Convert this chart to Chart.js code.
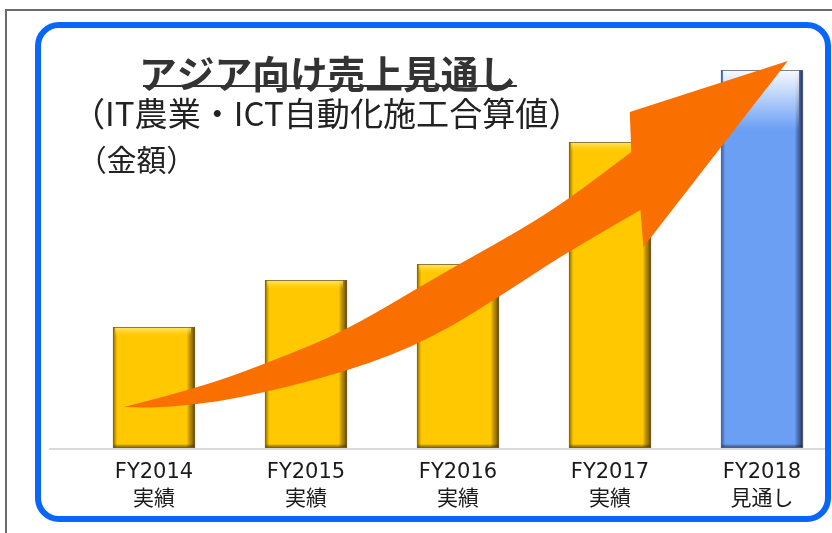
<!DOCTYPE html>
<html lang="ja">
<head>
<meta charset="utf-8">
<title>アジア向け売上見通し</title>
<script src="https://cdn.jsdelivr.net/npm/chart.js@4.4.1/dist/chart.umd.min.js"></script>
<style>
  html, body { margin: 0; padding: 0; }
  body { width: 832px; height: 533px; overflow: hidden; position: relative; background: #fff; }
  .outer { position: absolute; left: 5px; top: 9px; width: 840px; height: 540px;
           border-left: 2px solid #6b6b6b; border-top: 2px solid #6b6b6b; }
  .frame { position: absolute; left: 35px; top: 22px; width: 784px; height: 488px;
           border: 6px solid #0a66f8; border-radius: 24px; }
  .chart-box { position: absolute; left: 0; top: 0; width: 850px; height: 533px; }
</style>
</head>
<body>
<div class="outer"></div>
<div class="frame"></div>
<div class="chart-box"><canvas id="salesChart"></canvas></div>

<script>
// 見出し
const titleText = "アジア向け売上見通し";
const subtitleText = "（IT農業・ICT自動化施工合算値）";
const unitText = "（金額）";
// 年度ラベル（2行）
const years = ["FY2014", "FY2015", "FY2016", "FY2017", "FY2018"];
const kinds = ["実績", "実績", "実績", "実績", "見通し"];
// 金額（目盛なしのため相対値）
const amounts = [121, 168, 184, 306, 378];
// 矢印の輪郭（x: 年度の位置, y: 金額の単位）
const arrowUpperX = [-0.2, 0.3, 0.83, 1.27, 1.88, 2.41, 2.72, 3.14];
const arrowUpperY = [41, 60, 90, 118, 173, 218, 248, 296];
const arrowHeadX = [3.13, 4.17, 3.22];
const arrowHeadY = [336, 387, 201];
const arrowLowerX = [3.2, 2.72, 2.41, 1.84, 1.27, 0.52, 0.04, -0.2];
const arrowLowerY = [238, 196, 165, 110, 76, 48, 40, 41];

const GOLD = "#ffc800";
const BLUE = "#6a9ff4";
const ARROW = "#f97000";
const JP = "'Noto Sans CJK JP'";

// 見出しの配置（インクの左端・右端・上端）
const headings = [
    { text: titleText, weight: "bold", color: "#333", left: 143, right: 513, top: 55, underline: 86 },
    { text: subtitleText, weight: "normal", color: "#222", left: 94, right: 558, top: 97 },
    { text: unitText, weight: "normal", color: "#222", left: 97, right: 175, top: 145 },
];

const headingPlugin = {
    id: "headings",
    afterDraw(chart) {
        const { ctx } = chart;
        ctx.save();
        ctx.textAlign = "left";
        ctx.textBaseline = "alphabetic";
        headings.forEach(h => {
            ctx.font = `${h.weight} 100px ${JP}`;
            let m = ctx.measureText(h.text);
            const size = 100 * (h.right - h.left) / (m.actualBoundingBoxLeft + m.actualBoundingBoxRight);
            ctx.font = `${h.weight} ${size.toFixed(2)}px ${JP}`;
            m = ctx.measureText(h.text);
            ctx.fillStyle = h.color;
            ctx.fillText(h.text, h.left + m.actualBoundingBoxLeft, h.top + m.actualBoundingBoxAscent);
            if (h.underline) {
                ctx.fillRect(h.left, h.underline - 1, h.right - h.left + 4, 2);
            }
        });
        ctx.restore();
    }
};

// 棒の立体感（縁の影とハイライト）
const bevelPlugin = {
    id: "bevel",
    beforeDatasetsDraw(chart) {
        const { ctx, scales } = chart;
        const y0 = scales.y.getPixelForValue(0);
        ctx.save();
        ctx.fillStyle = "#d9d9d9";
        ctx.fillRect(49, y0, 776, 2);
        ctx.restore();
    },
    afterDatasetsDraw(chart) {
        const { ctx } = chart;
        const meta = chart.getDatasetMeta(0);
        meta.data.forEach((bar, i) => {
            const { x, y, base, width } = bar.getProps(["x", "y", "base", "width"], true);
            const l = x - width / 2, r = x + width / 2, h = base - y;
            const isPlan = i === amounts.length - 1;
            ctx.save();
            // 左右の縁
            const hg = ctx.createLinearGradient(l, 0, r, 0);
            hg.addColorStop(0, isPlan ? "rgba(40,60,110,0.55)" : "rgba(110,75,0,0.6)");
            hg.addColorStop(0.05, "rgba(0,0,0,0)");
            hg.addColorStop(0.9, "rgba(0,0,0,0)");
            hg.addColorStop(0.96, isPlan ? "rgba(30,40,80,0.55)" : "rgba(90,60,0,0.55)");
            hg.addColorStop(1, isPlan ? "rgba(20,25,50,0.9)" : "rgba(60,40,0,0.9)");
            ctx.fillStyle = hg;
            ctx.fillRect(l, y, width, h);
            // 上部のハイライト
            const topH = isPlan ? 60 : 9;
            const vg = ctx.createLinearGradient(0, y, 0, y + topH);
            if (isPlan) {
                vg.addColorStop(0, "rgba(255,255,255,0.95)");
                vg.addColorStop(1, "rgba(255,255,255,0)");
            } else {
                vg.addColorStop(0, "rgba(255,235,120,0.9)");
                vg.addColorStop(1, "rgba(255,220,60,0)");
            }
            ctx.fillStyle = vg;
            ctx.fillRect(l + 2, y, width - 6, topH);
            // 下の影
            const bg = ctx.createLinearGradient(0, base - 4, 0, base);
            bg.addColorStop(0, "rgba(0,0,0,0)");
            bg.addColorStop(1, isPlan ? "rgba(30,40,80,0.7)" : "rgba(80,55,0,0.7)");
            ctx.fillStyle = bg;
            ctx.fillRect(l, base - 4, width, 4);
            // 輪郭
            ctx.strokeStyle = isPlan ? "rgba(90,100,120,0.8)" : "rgba(120,95,40,0.8)";
            ctx.lineWidth = 1;
            ctx.strokeRect(l + 0.5, y + 0.5, width - 1, h - 1);
            ctx.restore();
        });
    }
};

// 右肩上がりの矢印
const arrowPlugin = {
    id: "arrow",
    afterDatasetsDraw(chart) {
        const { ctx, scales } = chart;
        const px = (xs, ys) => xs.map((v, i) => [scales.x.getPixelForValue(v), scales.y.getPixelForValue(ys[i])]);
        const up = px(arrowUpperX, arrowUpperY);
        const head = px(arrowHeadX, arrowHeadY);
        const low = px(arrowLowerX, arrowLowerY);
        const smooth = (pts, first) => {
            if (first) ctx.moveTo(pts[0][0], pts[0][1]);
            else ctx.lineTo(pts[0][0], pts[0][1]);
            for (let i = 1; i < pts.length - 1; i++) {
                const mx = (pts[i][0] + pts[i + 1][0]) / 2;
                const my = (pts[i][1] + pts[i + 1][1]) / 2;
                ctx.quadraticCurveTo(pts[i][0], pts[i][1], mx, my);
            }
            const last = pts[pts.length - 1];
            ctx.lineTo(last[0], last[1]);
        };
        ctx.save();
        ctx.beginPath();
        smooth(up, true);
        head.forEach(p => ctx.lineTo(p[0], p[1]));
        smooth(low, false);
        ctx.closePath();
        ctx.fillStyle = ARROW;
        ctx.fill();
        ctx.restore();
    }
};

new Chart(document.getElementById("salesChart"), {
    type: "bar",
    data: {
        labels: years.map((y, i) => [y, kinds[i]]),
        datasets: [{
            data: amounts,
            backgroundColor: amounts.map((_, i) => i === amounts.length - 1 ? BLUE : GOLD),
            borderWidth: 0,
            categoryPercentage: 1,
            barPercentage: 0.54,
        }],
    },
    options: {
        responsive: true,
        maintainAspectRatio: false,
        animation: false,
        layout: { padding: { left: 78, right: 12, top: 48, bottom: 0 } },
        scales: {
            x: {
                grid: { display: false, drawTicks: false },
                border: { display: false },
                ticks: {
                    color: "#1a1a1a",
                    padding: 12,
                    maxRotation: 0,
                    font: { family: "'DejaVu Sans', 'Noto Sans CJK JP'", size: 21, lineHeight: 1.24 },
                },
                afterFit(scale) { scale.height = 85; },
            },
            y: { display: false, min: 0, max: 400 },
        },
        plugins: {
            legend: { display: false },
            tooltip: { enabled: false },
        },
    },
    plugins: [bevelPlugin, arrowPlugin, headingPlugin],
});
</script>
</body>
</html>
